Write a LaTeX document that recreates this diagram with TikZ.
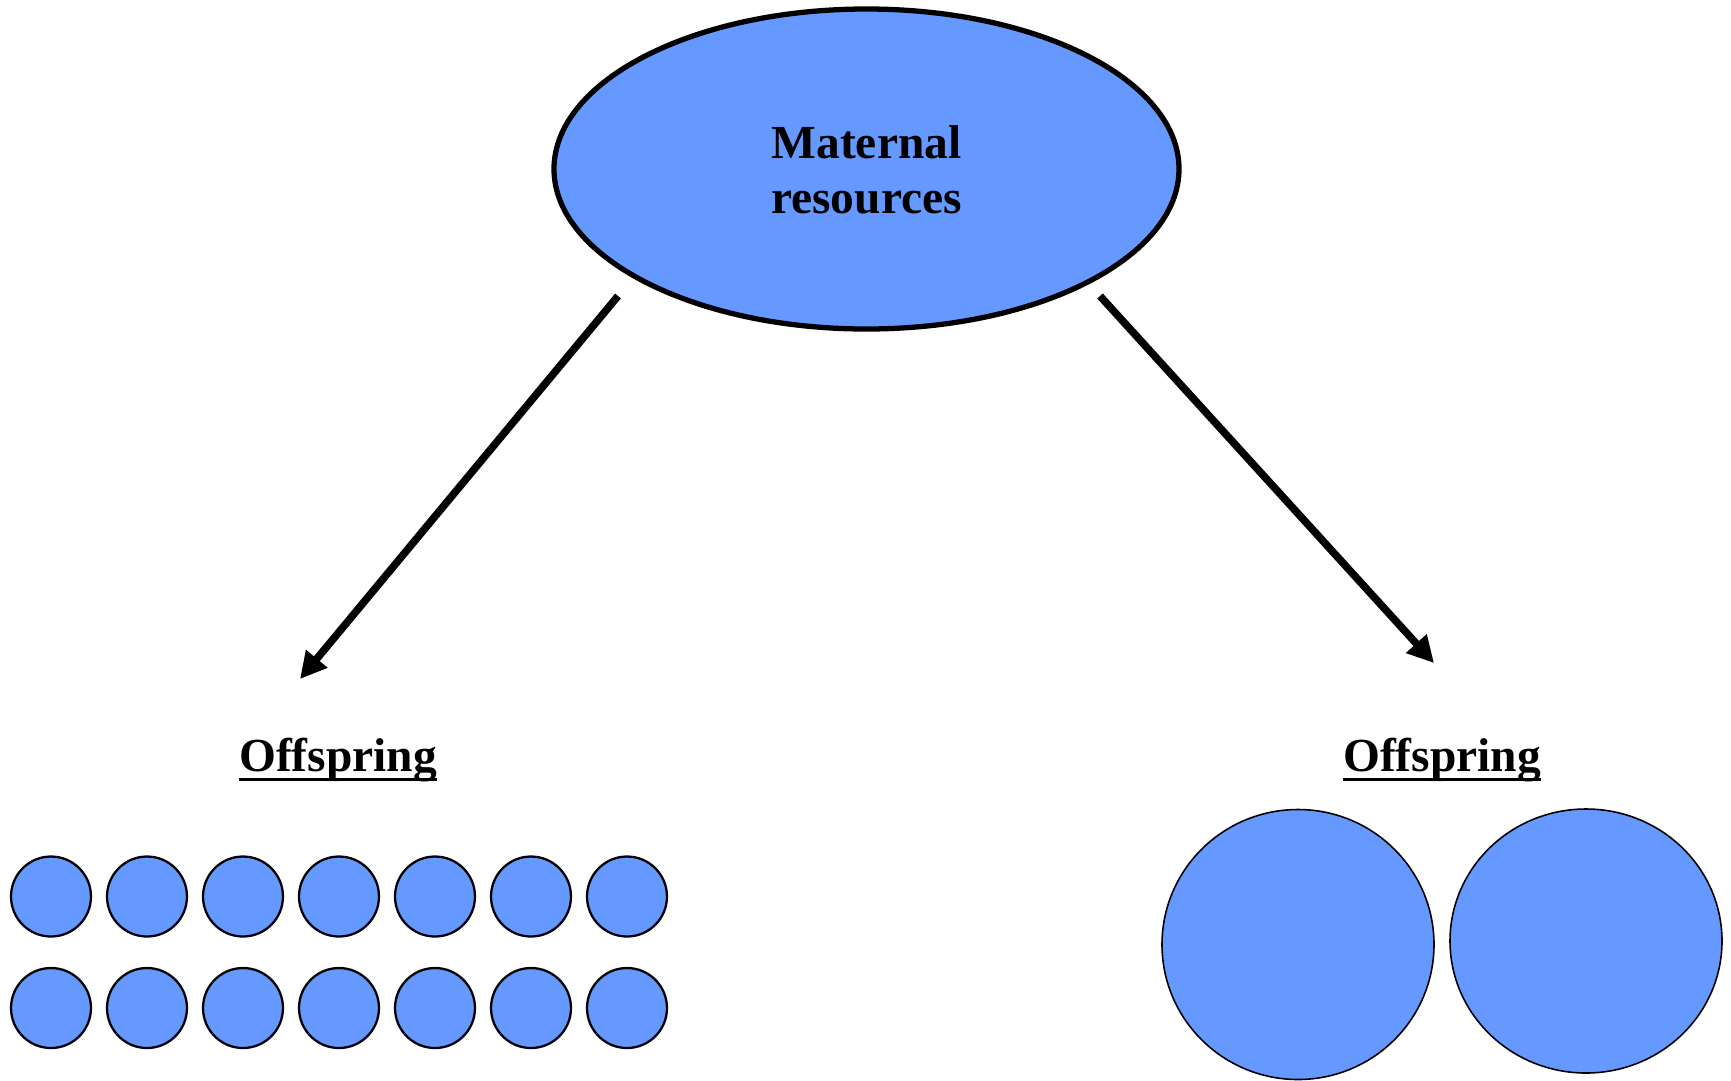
\documentclass[tikz,border=0pt]{standalone}
\usepackage{fontspec}
\setmainfont{Liberation Serif}
\usetikzlibrary{shapes.geometric,arrows.meta}
\definecolor{blob}{HTML}{6699FF}
\begin{document}
\begin{tikzpicture}[x=0.02cm,y=-0.02cm,
  small/.style={draw=black,fill=blob,line width=1.3pt,circle,minimum size=80*0.02cm,inner sep=0pt},
  big/.style={draw=black,fill=blob,line width=0.9pt,ellipse,inner sep=0pt},
  conn/.style={line width=4.3pt,-{Triangle[length=15pt,width=15pt]}},
  lbl/.style={font=\fontsize{27}{32}\selectfont\bfseries,align=center},
  uline/.style={line width=1.5pt}]
\useasboundingbox (0,0) rectangle (1731,1080);
\node[ellipse,draw=black,fill=blob,line width=3pt,minimum width=625*0.02cm,minimum height=320*0.02cm,inner sep=0pt] (mat) at (866.5,169) {};
\node[lbl] (mattxt) at (866.5,170) {Maternal\\[-1pt]resources};
\coordinate (ls) at (618,296);
\coordinate (le) at (300,679);
\coordinate (rs) at (1100,296);
\coordinate (re) at (1434,663);
\draw[conn] (ls) -- (le);
\draw[conn] (rs) -- (re);
\node[lbl,inner sep=0pt] (offl) at (338,760) {Offspring};
\node[lbl,inner sep=0pt] (offr) at (1442,760) {Offspring};
\draw[uline] ([yshift=-4.5pt]offl.base west) -- ([yshift=-4.5pt]offl.base east);
\draw[uline] ([yshift=-4.5pt]offr.base west) -- ([yshift=-4.5pt]offr.base east);
\foreach \i [count=\k] in {51,147,243,339,435,531,627} {
  \node[small] (s1\k) at (\i,896.5) {};
  \node[small] (s2\k) at (\i,1008) {};
}
\node[big,minimum width=272*0.02cm,minimum height=270*0.02cm] (b1) at (1298,944.5) {};
\node[big,minimum width=272*0.02cm,minimum height=264*0.02cm] (b2) at (1586,941) {};
\end{tikzpicture}
\end{document}
